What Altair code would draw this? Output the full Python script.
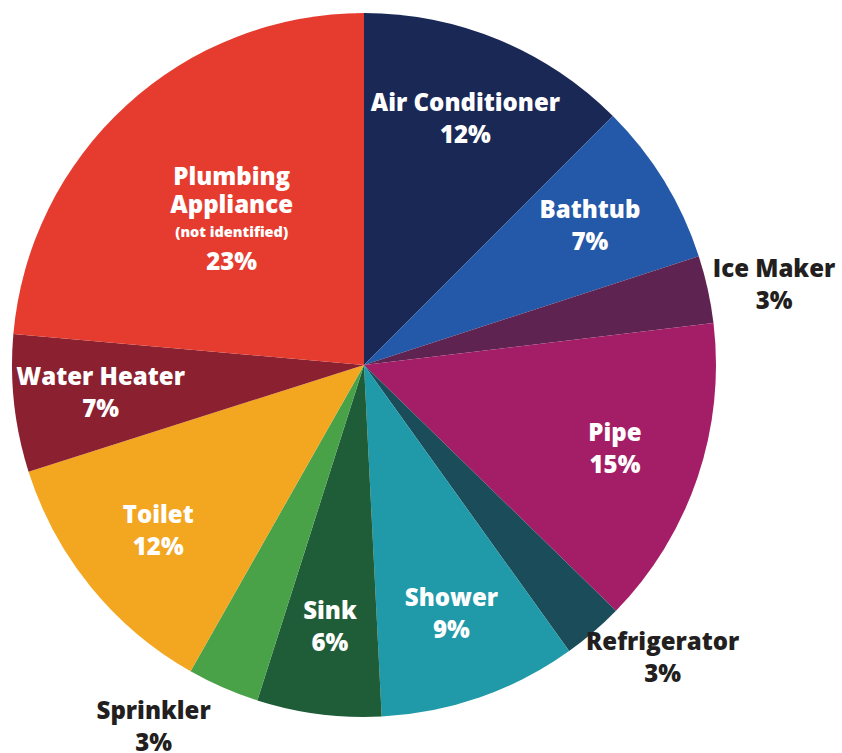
import altair as alt
import pandas as pd

categories = ["Air Conditioner", "Bathtub", "Ice Maker", "Pipe", "Refrigerator",
              "Shower", "Sink", "Sprinkler", "Toilet", "Water Heater", "Plumbing Appliance"]
# slice shares (percent of the circle)
shares = [12.5, 7.5, 3.1, 14.2, 2.8, 9.1, 5.7, 3.3, 11.9, 6.3, 23.6]
# percentages printed on the labels
pct_labels = ["12%", "7%", "3%", "15%", "3%", "9%", "6%", "3%", "12%", "7%", "23%"]
colors = ["#1a2856", "#2359a8", "#5f2352", "#a31e66", "#1b4c5a",
          "#209aa9", "#1f5d39", "#4aa248", "#f3a620", "#8a2030", "#e53c2f"]
outside = ["Ice Maker", "Refrigerator", "Sprinkler"]

df = pd.DataFrame({"category": categories, "share": shares, "pct": pct_labels})
df["order"] = range(len(df))
df["mid"] = df["share"].cumsum() - df["share"] / 2
# outside labels are pulled a little toward the horizontal (as in the original)
deg = df["mid"] * 3.6
horiz = deg.where(deg < 180, 270).where(deg >= 180, 90)
df["lab_pos"] = ((horiz + (deg - horiz) * 0.9) / 3.6).where(
    df["category"].isin(outside), df["mid"])
df["label"] = df["category"] + "\n" + df["pct"]

R = 352
FONT = "Open Sans"
FS = 24
LH = 32

theta_scale = alt.Scale(domain=[0, 100])
color_scale = alt.Scale(domain=categories, range=colors)

arcs = alt.Chart(df).mark_arc(radius=R, stroke=None).encode(
    theta=alt.Theta("share:Q", stack=True, scale=theta_scale),
    color=alt.Color("category:N", scale=color_scale, legend=None),
    order=alt.Order("order:Q"),
)

inside_df = df[~df["category"].isin(outside + ["Plumbing Appliance"])]
outside_df = df[df["category"].isin(outside)]
plumb_df = df[df["category"] == "Plumbing Appliance"].copy()
plumb_df["name"] = "Plumbing\nAppliance"
plumb_df["sub"] = "(not identified)"

def theta_enc():
    return alt.Theta("lab_pos:Q", stack=False, scale=theta_scale)

common = dict(font=FONT, fontSize=FS, fontWeight=800, lineBreak="\n",
              align="center", baseline="middle")

inside_txt = alt.Chart(inside_df).mark_text(
    radius=265, color="white", lineHeight=LH, dy=-LH / 2, **common
).encode(theta=theta_enc(), text="label:N")

outside_txt = alt.Chart(outside_df).mark_text(
    radius=418, color="#231f20", lineHeight=LH, dy=-LH / 2 + 2, **common
).encode(theta=theta_enc(), text="label:N")

PR = 196
PLH = 28
plumb_name = alt.Chart(plumb_df).mark_text(
    radius=PR, color="white", lineHeight=PLH, dy=-1.5 * PLH, **common
).encode(theta=theta_enc(), text="name:N")

plumb_sub = alt.Chart(plumb_df).mark_text(
    radius=PR, font=FONT, fontSize=14.5, fontWeight=800, color="white",
    align="center", baseline="middle", dy=0.5 * PLH - 1
).encode(theta=theta_enc(), text="sub:N")

plumb_pct = alt.Chart(plumb_df).mark_text(
    radius=PR, color="white", dy=1.5 * PLH + 1, **common
).encode(theta=theta_enc(), text="pct:N")

chart = alt.layer(arcs, inside_txt, outside_txt, plumb_name, plumb_sub, plumb_pct).properties(
    width=728, height=730,
    autosize=alt.AutoSizeParams(type="none"),
    padding={"left": 0, "top": 0, "right": 114, "bottom": 23},
    background="white",
).configure_view(stroke=None)

chart.save("out.html", embed_options={"renderer": "svg", "actions": False})
